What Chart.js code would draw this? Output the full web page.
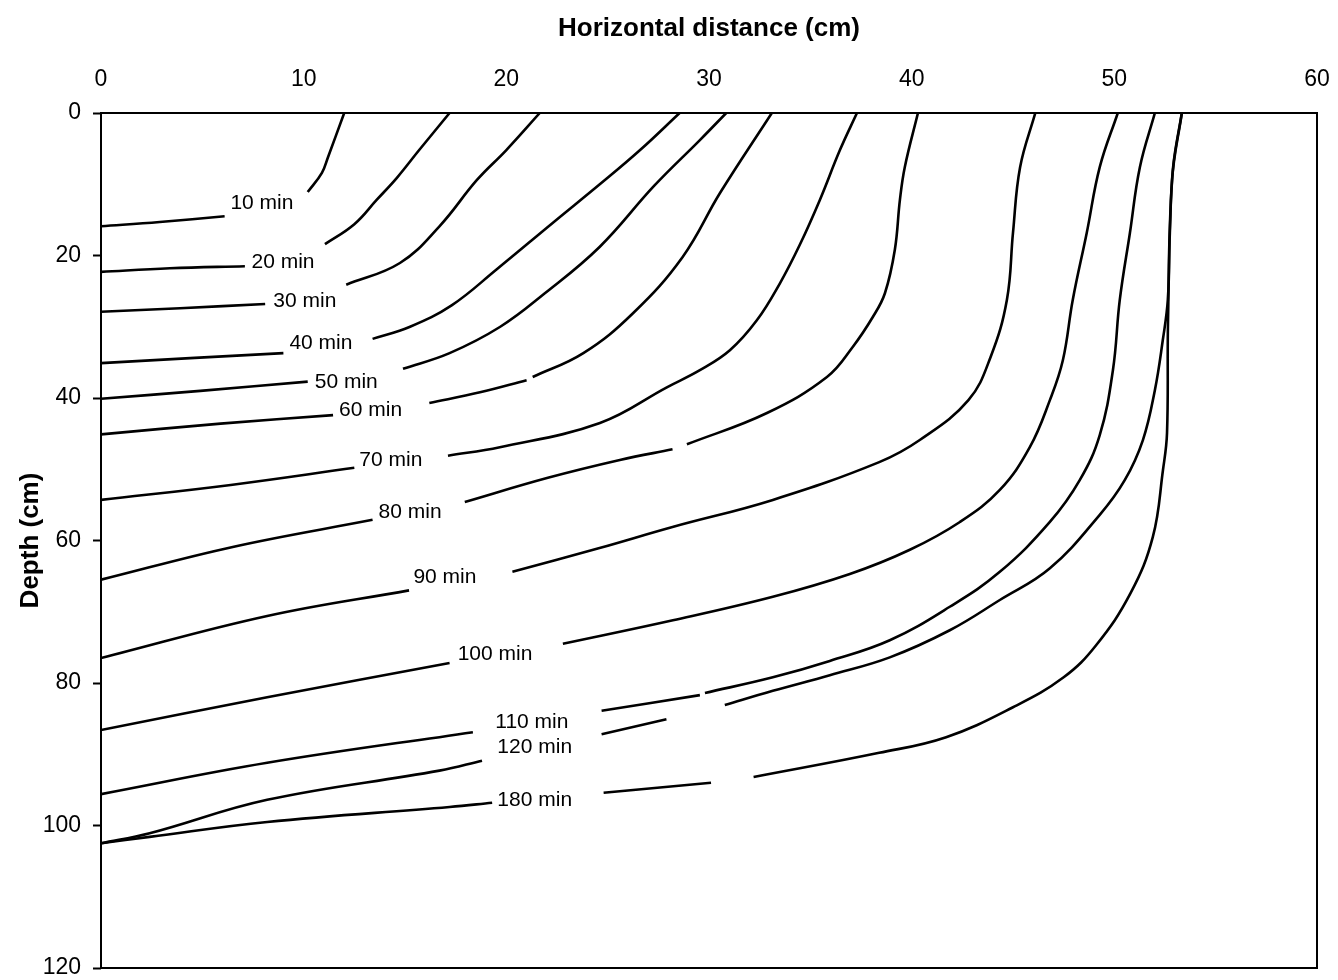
<!DOCTYPE html>
<html>
<head>
<meta charset="utf-8">
<script src="https://cdn.jsdelivr.net/npm/chart.js@4.4.1/dist/chart.umd.min.js"></script>
<style>
  html, body { margin: 0; padding: 0; background: #fff; overflow: hidden; }
  #wrap { width: 1338px; height: 980px; position: relative; }
  canvas { display: block; }
</style>
</head>
<body>
<div id="wrap"><canvas id="isochrones"></canvas></div>
<script>
// isochrones del frente de humedecimiento: [distancia horizontal (cm), profundidad (cm)]
// null = hueco donde va la etiqueta (o corte de la linea)
const min10 = [[0,15.9],[2.9,15.3],[6.1,14.5], null, [10.2,11.1],[10.9,8.4],[11.2,6.2],[12.0,0]];
const min20 = [[0,22.3],[3.4,21.8],[7.1,21.5], null, [11.05,18.4],[12.5,15.6],[13.6,12.2],[14.6,9.1],[15.7,5.2],[17.2,0]];
const min30 = [[0,27.9],[3.9,27.4],[8.1,26.8], null, [12.1,24.1],[14.75,21.05],[16.7,15.9],[18.55,9.4],[20.0,5.2],[21.65,0]];
const min40 = [[0,35.1],[4.4,34.4],[9.0,33.7], null, [13.4,31.7],[15.25,30.0],[17.3,27.0],[19.5,22.0],[22.3,15.4],[24.7,9.8],[26.6,5.2],[28.55,0]];
const min50 = [[0,40.1],[4.9,39.0],[10.2,37.7], null, [14.9,35.9],[17.2,33.7],[19.7,30.0],[21.9,25.3],[24.6,18.8],[27.3,10.2],[29.55,3.8],[30.85,0]];
const min60 = [[0,45.1],[5.9,43.6],[11.45,42.4], null, [16.2,40.7],[18.7,39.2],[21.0,37.5], null, [21.3,37.05],[23.8,33.7],[26.25,28.1],[28.7,20.2],[30.55,11.2],[33.1,0]];
const min70 = [[0,54.3],[6.4,52.2],[12.5,49.8], null, [17.12,48.1],[19.68,46.9],[24.62,43.5],[27.92,38.5],[29.55,36.1],[31.03,33.3],[32.36,29.1],[33.5,23.9],[34.48,18.5],[35.47,12.2],[36.46,5.2],[37.3,0]];
const min80 = [[0,65.5],[6.5,60.9],[13.4,57.1], null, [17.95,54.6],[22.05,51.2],[25.6,48.7],[28.2,47.2], null, [28.91,46.5],[32.86,42.1],[35.82,37.05],[37.1,32.8],[38.09,28.6],[38.68,25.3],[39.17,19.2],[39.42,12.2],[39.66,7.6],[40.31,0]];
const min90 = [[0,76.5],[8.2,70.6],[15.2,67.0], null, [20.3,64.4],[24.6,61.05],[28.2,58.1],[33.15,54.3],[38.4,49.0],[40.4,45.9],[42.8,40.3],[43.9,34.2],[44.7,26.2],[45.0,16.8],[45.35,7.6],[46.1,0]];
const min100 = [[0,86.6],[8.2,82.0],[17.2,77.2], null, [22.79,74.5],[28.22,71.2],[33.15,67.9],[36.95,64.7],[39.91,61.3],[42.38,57.4],[44.35,52.9],[45.83,46.9],[46.82,40.3],[47.46,34.7],[47.95,26.2],[48.64,16.8],[49.28,7.6],[50.17,0]];
const min110 = [[0,95.6],[8.2,91.2],[18.35,86.9], null, [24.7,83.9],[29.55,81.7], null, [29.8,81.4],[33.15,79.2],[35.96,76.9],[38.92,74.0],[41.88,69.3],[44.35,64.4],[46.82,57.4],[48.3,51.5],[49.28,45.2],[49.93,36.1],[50.27,26.2],[50.77,16.8],[51.26,7.6],[52.0,0]];
const min120 = [[0,102.5],[2.4,101.1],[8.2,96.4],[16.7,92.3],[18.8,90.9], null, [24.7,87.2],[27.9,85.1], null, [30.78,83.1],[33.15,81.1],[35.96,78.9],[38.92,76.4],[41.88,72.6],[44.35,68.35],[46.82,63.9],[49.28,56.4],[50.52,51.5],[51.41,45.9],[52.0,38.9],[52.39,31.9],[52.64,26.2],[52.74,16.8],[52.9,7.6],[53.33,0]];
const min180 = [[0,102.5],[2.4,101.6],[8.2,99.5],[17.2,97.4],[19.3,96.8], null, [24.8,95.4],[30.1,94.0], null, [32.2,93.2],[38.4,89.8],[41.7,87.6],[45.0,83.4],[47.5,79.2],[49.1,74.7],[50.8,67.4],[51.9,59.5],[52.4,50.1],[52.6,44.9],[52.65,29.05],[52.85,9.4],[53.33,0]];

const curves = [min10, min20, min30, min40, min50, min60, min70, min80, min90, min100, min110, min120, min180];
const curveNames = ['10 min','20 min','30 min','40 min','50 min','60 min','70 min','80 min','90 min','100 min','110 min','120 min','180 min'];
// donde va cada etiqueta, en unidades del grafico
const labelAt = [[7.94,12.6],[8.98,20.9],[10.06,26.4],[10.85,32.3],[12.1,37.75],[13.3,41.7],[14.3,48.7],[15.25,56.0],[16.97,65.1],[19.44,75.9],[21.26,85.5],[21.4,89.0],[21.4,96.4]];

const xTicks = [0, 10, 20, 30, 40, 50, 60];
const yTicks = [0, 20, 40, 60, 80, 100, 120];

const fontFam = '"Liberation Sans", Arial, Helvetica, sans-serif';

// marco completo del area de trazado + etiquetas de las curvas
const frameAndLabels = {
    id: 'frameAndLabels',
    afterDatasetsDraw(chart) {
        const { ctx, chartArea: a, scales: { x, y } } = chart;
        ctx.save();
        ctx.strokeStyle = '#000';
        ctx.lineWidth = 2;
        ctx.strokeRect(a.left, a.top, a.right - a.left, a.bottom - a.top);
        ctx.fillStyle = '#000';
        ctx.font = '21px ' + fontFam;
        ctx.textAlign = 'center';
        ctx.textBaseline = 'middle';
        curveNames.forEach((name, i) => {
            ctx.fillText(name, x.getPixelForValue(labelAt[i][0]), y.getPixelForValue(labelAt[i][1]));
        });
        ctx.restore();
    }
};

const toPoints = (arr) => {
    let lastX = 0;
    return arr.map(p => {
        if (p === null) return { x: lastX, y: null };
        lastX = p[0];
        return { x: p[0], y: p[1] };
    });
};

const ctx = document.getElementById('isochrones');
new Chart(ctx, {
    type: 'line',
    data: {
        datasets: curves.map((c, i) => ({
            label: curveNames[i],
            data: toPoints(c),
            borderColor: '#000',
            borderWidth: 2.6,
            pointRadius: 0,
            tension: 0.4,
            spanGaps: false,
            fill: false
        }))
    },
    options: {
        responsive: true,
        maintainAspectRatio: false,
        animation: false,
        events: [],
        layout: { padding: { left: 0, right: 21, top: 0, bottom: 12 } },
        scales: {
            x: {
                type: 'linear',
                position: 'top',
                min: 0,
                max: 60,
                afterBuildTicks: (s) => { s.ticks = xTicks.map(v => ({ value: v })); },
                afterFit: (s) => { s.height = 113; s.paddingLeft = 0; s.paddingRight = 0; },
                grid: { display: true, drawOnChartArea: false, drawTicks: false },
                border: { display: false },
                ticks: { color: '#000', padding: 20, font: { family: fontFam, size: 23 } },
                title: {
                    display: true,
                    text: 'Horizontal distance (cm)',
                    color: '#000',
                    padding: { top: 13 },
                    font: { family: fontFam, size: 26, weight: 'bold' }
                }
            },
            y: {
                type: 'linear',
                reverse: true,
                min: 0,
                max: 120,
                afterBuildTicks: (s) => { s.ticks = yTicks.map(v => ({ value: v })); },
                afterFit: (s) => { s.width = 101; s.paddingTop = 0; s.paddingBottom = 0; },
                grid: { display: true, drawOnChartArea: false, drawTicks: true, tickLength: 8, color: '#000', tickWidth: 2 },
                border: { display: false },
                ticks: { color: '#000', padding: 12, font: { family: fontFam, size: 23 } },
                title: {
                    display: true,
                    text: 'Depth (cm)',
                    color: '#000',
                    padding: { top: 15 },
                    font: { family: fontFam, size: 26, weight: 'bold' }
                }
            }
        },
        plugins: {
            legend: { display: false },
            tooltip: { enabled: false }
        }
    },
    plugins: [frameAndLabels]
});
</script>
</body>
</html>
